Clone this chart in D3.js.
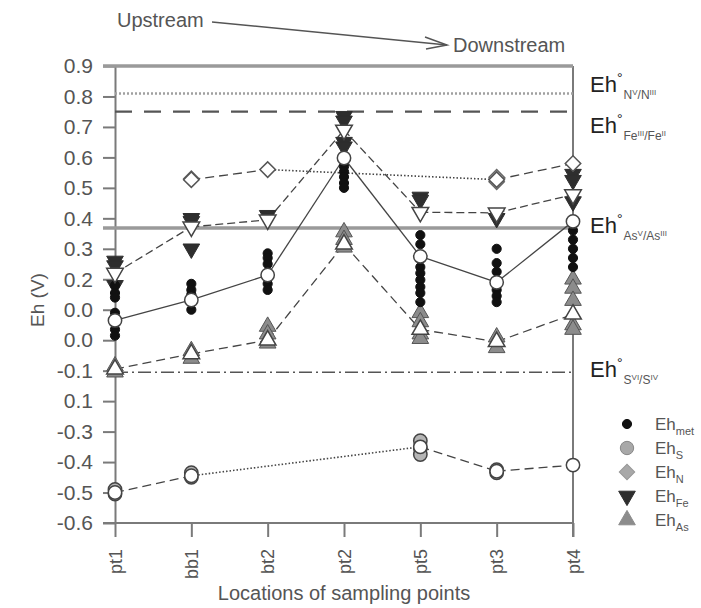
<!DOCTYPE html>
<html>
<head>
<meta charset="utf-8">
<script src="https://cdnjs.cloudflare.com/ajax/libs/d3/7.8.5/d3.min.js"></script>
<style>
body { margin: 0; background: #fff; }
svg { font-family: "Liberation Sans", Arial, sans-serif; }
</style>
</head>
<body>
<svg id="chart" width="701" height="608"></svg>
<script>
//Categories and ticks
var sites = ["pt1", "bb1", "bt2", "pt2", "pt5", "pt3", "pt4"];
var yTicks = [0.9, 0.8, 0.7, 0.6, 0.5, 0.4, 0.3, 0.2, 0.1, 0.0, -0.1, -0.2, -0.3, -0.4, -0.5, -0.6];
var yTickLabels = ["0.9", "0.8", "0.7", "0.6", "0.5", "0.4", "0.3", "0.2", "0.0", "0.0", "-0.1", "0.1", "-0.3", "-0.4", "-0.5", "-0.6"];

//Mean values (open symbols), null = not sampled
var metMean = [0.065, 0.132, 0.214, 0.598, 0.275, 0.19, 0.39];
var sMean   = [-0.50, -0.445, null, null, -0.35, -0.43, -0.41];
var nMean   = [null, 0.527, 0.56, null, null, 0.527, 0.58];
var feMean  = [0.22, 0.372, 0.395, 0.69, 0.42, 0.418, 0.478];
var asMean  = [-0.095, -0.045, 0.0, 0.315, 0.035, -0.005, 0.085];

//Single values per site
var metValues = [
	[0.18, 0.155, 0.14, 0.09, 0.035, 0.015],
	[0.185, 0.165, 0.15, 0.10],
	[0.285, 0.27, 0.25, 0.185, 0.165],
	[0.57, 0.553, 0.536, 0.516, 0.50],
	[0.345, 0.315, 0.24, 0.22, 0.198, 0.175, 0.155, 0.125],
	[0.30, 0.253, 0.225, 0.165, 0.145, 0.125],
	[0.36, 0.33, 0.30, 0.27, 0.24]
];
var sValues  = [[-0.49, -0.505], [-0.435, -0.45], [], [], [-0.33, -0.355, -0.375], [-0.425, -0.435], []];
var nValues  = [[], [0.53], [], [], [], [0.535, 0.52], []];
var feValues = [[0.26, 0.245, 0.18], [0.40, 0.39, 0.30], [0.41], [0.735, 0.72, 0.65, 0.635], [0.47, 0.46], [0.40], [0.545, 0.525, 0.455]];
var asValues = [[-0.085, -0.105], [-0.035, -0.06], [0.045, 0.02, -0.01], [0.355, 0.33, 0.305], [0.09, 0.06, 0.02, 0.005], [0.01, -0.025], [0.20, 0.17, 0.13, 0.05, 0.035]];

//Standard potentials
var refValues = [0.9, 0.81, 0.75, 0.368, -0.105];
var refElements = ["N", "Fe", "As", "S"];
var refStates = [["V", "III"], ["III", "II"], ["V", "III"], ["VI", "IV"]];

var legendNames = ["met", "S", "N", "Fe", "As"];

var svg = d3.select("#chart");
var x = d3.scalePoint().domain(sites).range([115, 573]);
var y = d3.scaleLinear().domain([-0.6, 0.9]).range([523, 66]);

var axisColor = "#7a7a7a";

// y axis
var yAxis = svg.append("g")
	.attr("transform", "translate(115,0)")
	.call(d3.axisLeft(y).tickValues(yTicks).tickSize(12).tickSizeOuter(0)
		.tickFormat(function(d, i) { return yTickLabels[i]; }));
yAxis.select(".domain").attr("stroke", axisColor).attr("stroke-width", 2);
yAxis.selectAll(".tick line").attr("stroke", axisColor).attr("stroke-width", 2);
yAxis.selectAll(".tick text").attr("x", -22).attr("fill", "#555")
	.style("font-size", "21px").style("font-family", "Liberation Sans, Arial, sans-serif");

// x axis
var xAxis = svg.append("g")
	.attr("transform", "translate(0,523)")
	.call(d3.axisBottom(x).tickSize(14).tickSizeOuter(0));
xAxis.select(".domain").remove();
xAxis.selectAll(".tick line").attr("stroke", axisColor).attr("stroke-width", 2);
xAxis.selectAll(".tick text")
	.attr("transform", "rotate(-90)")
	.attr("x", -26).attr("y", 0).attr("dy", "0.35em")
	.attr("text-anchor", "end").attr("fill", "#555")
	.style("font-size", "18px").style("font-family", "Liberation Sans, Arial, sans-serif");

svg.append("line").attr("x1", 103).attr("x2", 573).attr("y1", 523).attr("y2", 523)
	.attr("stroke", axisColor).attr("stroke-width", 2);
svg.append("line").attr("x1", 573).attr("x2", 573).attr("y1", 66).attr("y2", 537)
	.attr("stroke", axisColor).attr("stroke-width", 2);

// reference lines
var refStyles = [
	{ stroke: "#9a9a9a", width: 3.5, dash: null, x0: 103 },
	{ stroke: "#a0a0a0", width: 2.5, dash: "2,2", x0: 115 },
	{ stroke: "#555", width: 2.2, dash: "17,12", x0: 115 },
	{ stroke: "#9a9a9a", width: 3.5, dash: null, x0: 103 },
	{ stroke: "#555", width: 1.6, dash: "13,4,2,4", x0: 115 }
];
svg.append("g").selectAll("line")
	.data(refValues)
	.enter().append("line")
	.attr("x1", function(d, i) { return refStyles[i].x0; })
	.attr("x2", 573)
	.attr("y1", function(d) { return y(d); })
	.attr("y2", function(d) { return y(d); })
	.attr("stroke", function(d, i) { return refStyles[i].stroke; })
	.attr("stroke-width", function(d, i) { return refStyles[i].width; })
	.attr("stroke-dasharray", function(d, i) { return refStyles[i].dash; });

// right labels
var labelDy = [-1, 21, 5, 5];
refElements.forEach(function(el, i) {
	var t = svg.append("text")
		.attr("x", 590)
		.attr("y", y(refValues[i + 1]) + labelDy[i])
		.attr("fill", "#222")
		.style("font-size", "22px");
	t.append("tspan").text("Eh");
	t.append("tspan").attr("dy", -9).style("font-size", "14px").text("°");
	t.append("tspan").attr("dy", 16).attr("dx", 1).style("font-size", "12px").attr("fill", "#555").text(el);
	t.append("tspan").attr("dy", -4).style("font-size", "8px").attr("fill", "#555").text(refStates[i][0]);
	t.append("tspan").attr("dy", 4).style("font-size", "12px").attr("fill", "#555").text("/" + el);
	t.append("tspan").attr("dy", -4).style("font-size", "8px").attr("fill", "#555").text(refStates[i][1]);
});

// mean lines: neighbour sites dashed, bridged gaps dotted
function drawMeanLine(values, dash) {
	var line = d3.line().x(function(d) { return x(sites[d]); }).y(function(d) { return y(values[d]); });
	var idx = [];
	values.forEach(function(v, i) { if (v !== null) idx.push(i); });
	for (var k = 0; k < idx.length - 1; k++) {
		var gap = idx[k + 1] - idx[k] > 1;
		svg.append("path")
			.attr("d", line([idx[k], idx[k + 1]]))
			.attr("fill", "none")
			.attr("stroke", "#444")
			.attr("stroke-width", gap ? 1.6 : 1.3)
			.attr("stroke-dasharray", gap ? "1.5,2" : dash);
	}
}
drawMeanLine(metMean, null);
drawMeanLine(sMean, "9,5");
drawMeanLine(nMean, "9,5");
drawMeanLine(feMean, "8,4");
drawMeanLine(asMean, "9,5");

// symbols
var circleSmall = d3.symbol().type(d3.symbolCircle).size(66);
var circleBig = d3.symbol().type(d3.symbolCircle).size(140);
var triangle = d3.symbol().type(d3.symbolTriangle).size(120);
var diamond = d3.symbol().type(d3.symbolSquare).size(120);

function flatten(values) {
	var out = [];
	values.forEach(function(list, i) {
		list.forEach(function(v) { out.push({ site: sites[i], v: v }); });
	});
	return out;
}
function meanPoints(values) {
	var out = [];
	values.forEach(function(v, i) { if (v !== null) out.push({ site: sites[i], v: v }); });
	return out;
}
function drawPoints(data, path, rot, fill, stroke, sw) {
	svg.append("g").selectAll("path")
		.data(data)
		.enter().append("path")
		.attr("d", path)
		.attr("transform", function(d) { return "translate(" + x(d.site) + "," + y(d.v) + ") rotate(" + rot + ")"; })
		.attr("fill", fill)
		.attr("stroke", stroke)
		.attr("stroke-width", sw);
}

drawPoints(flatten(sValues), circleBig, 0, "#b5b5b5", "#444", 1.5);
drawPoints(flatten(nValues), diamond, 45, "#b0b0b0", "#666", 1.3);
drawPoints(flatten(asValues), triangle, 0, "#8c8c8c", "#555", 1);
drawPoints(flatten(feValues), triangle, 180, "#2e2e2e", "#2e2e2e", 1);
drawPoints(flatten(metValues), circleSmall, 0, "#111", "#111", 1);

drawPoints(meanPoints(sMean), circleBig, 0, "#fff", "#444", 1.5);
drawPoints(meanPoints(nMean), diamond, 45, "#fff", "#555", 1.5);
drawPoints(meanPoints(asMean), triangle, 0, "#fff", "#444", 1.5);
drawPoints(meanPoints(feMean), triangle, 180, "#fff", "#444", 1.5);
drawPoints(meanPoints(metMean), circleBig, 0, "#fff", "#444", 1.5);

// legend
var legendSymbols = [
	{ path: circleSmall, rot: 0, fill: "#111", stroke: "#111" },
	{ path: circleBig, rot: 0, fill: "#a8a8a8", stroke: "#888" },
	{ path: diamond, rot: 45, fill: "#a8a8a8", stroke: "#999" },
	{ path: triangle, rot: 180, fill: "#2e2e2e", stroke: "#2e2e2e" },
	{ path: triangle, rot: 0, fill: "#8c8c8c", stroke: "#8c8c8c" }
];
var legend = svg.append("g").selectAll("g")
	.data(legendNames)
	.enter().append("g")
	.attr("transform", function(d, i) { return "translate(627," + (424 + i * 24) + ")"; });
legend.append("path")
	.attr("d", function(d, i) { return legendSymbols[i].path(); })
	.attr("transform", function(d, i) { return "rotate(" + legendSymbols[i].rot + ")"; })
	.attr("fill", function(d, i) { return legendSymbols[i].fill; })
	.attr("stroke", function(d, i) { return legendSymbols[i].stroke; });
var lt = legend.append("text").attr("x", 28).attr("y", 6).attr("fill", "#555").style("font-size", "17px");
lt.append("tspan").text("Eh");
lt.append("tspan").attr("dy", 5).style("font-size", "11px").text(function(d) { return d; });

// titles
svg.append("text").attr("x", 344).attr("y", 600).attr("text-anchor", "middle")
	.attr("fill", "#555").style("font-size", "20px").text("Locations of sampling points");
svg.append("text").attr("transform", "translate(44,300) rotate(-90)").attr("text-anchor", "middle")
	.attr("fill", "#555").style("font-size", "19px").text("Eh (V)");

svg.append("text").attr("x", 117).attr("y", 27).attr("fill", "#555").style("font-size", "20px").text("Upstream");
svg.append("text").attr("x", 453).attr("y", 52).attr("fill", "#555").style("font-size", "20px").text("Downstream");
svg.append("line").attr("x1", 212).attr("y1", 22).attr("x2", 447).attr("y2", 45)
	.attr("stroke", "#555").attr("stroke-width", 1.5);
svg.append("path").attr("d", "M425,37 L447,45 L426,49")
	.attr("fill", "none").attr("stroke", "#555").attr("stroke-width", 1.5);
</script>
</body>
</html>
